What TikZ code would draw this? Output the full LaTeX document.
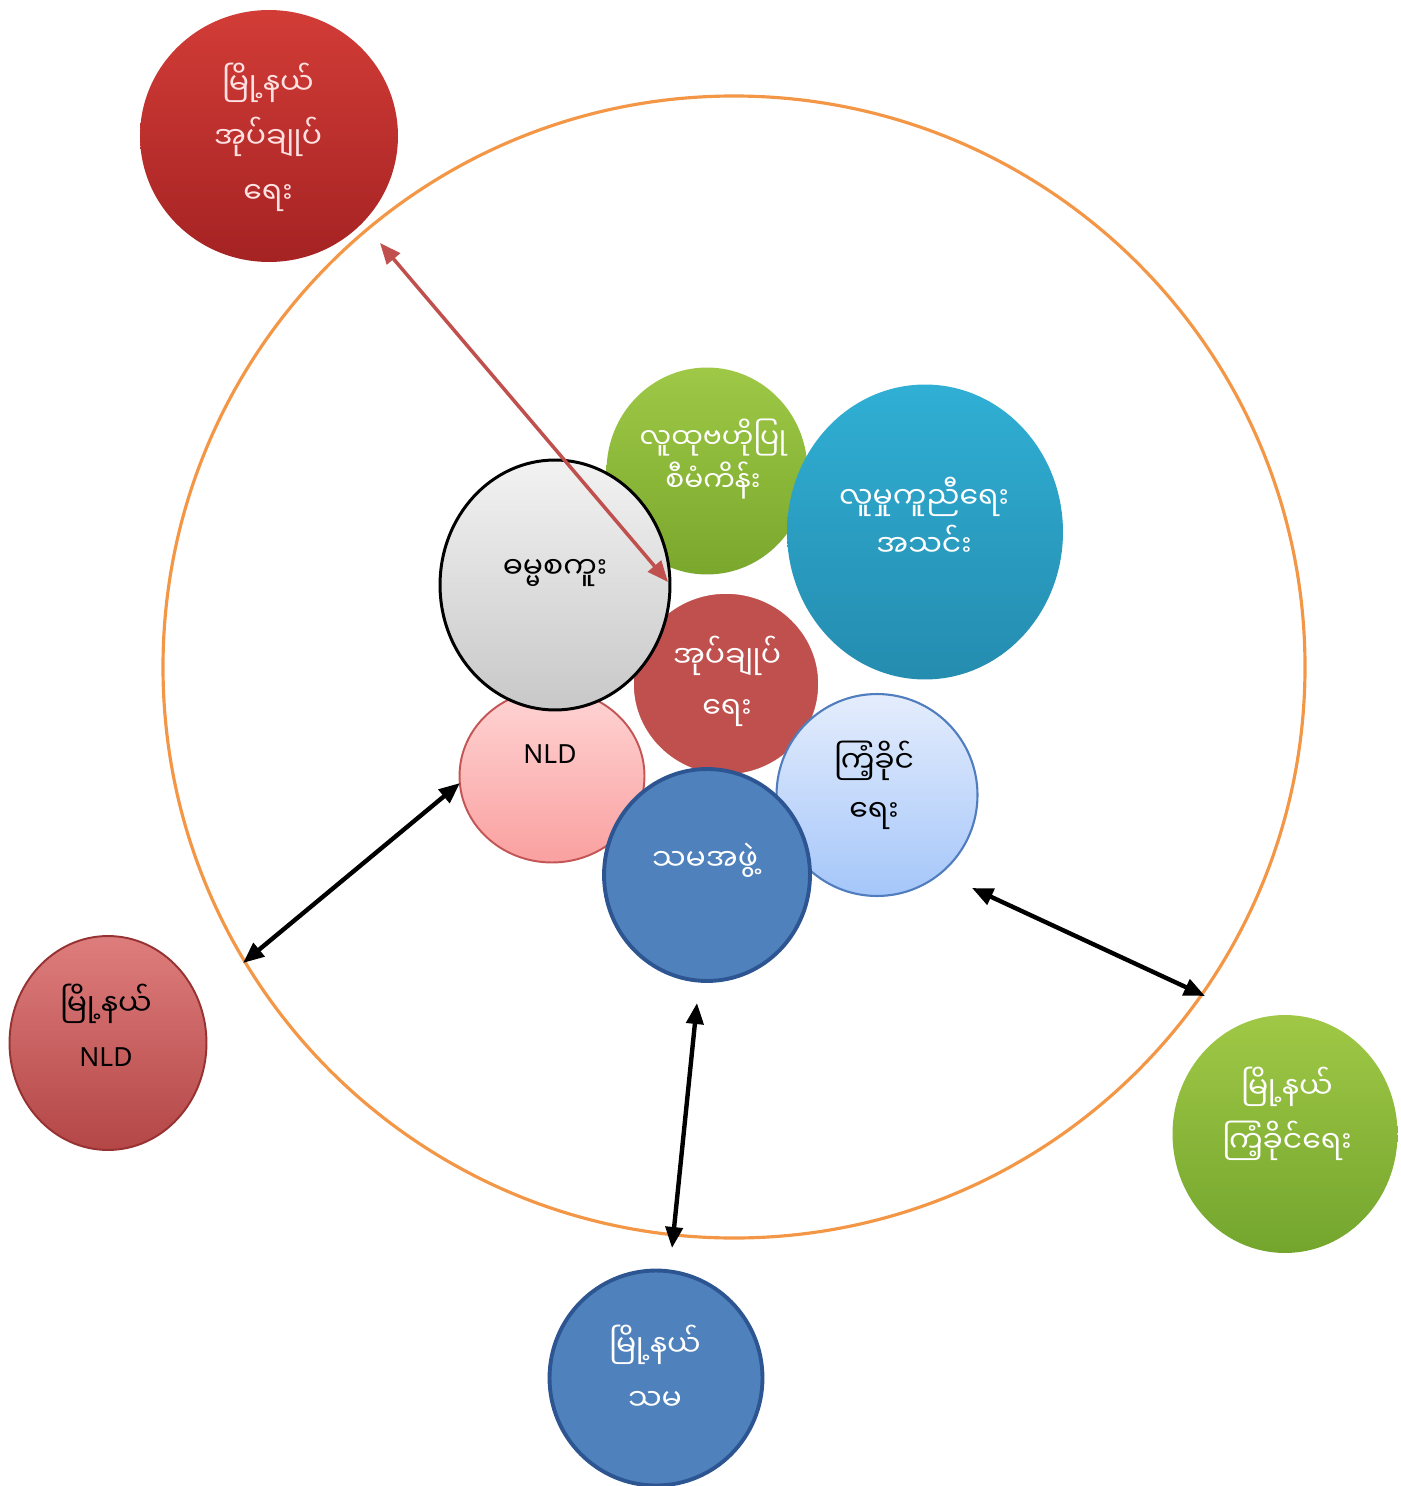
\documentclass[tikz,border=0pt]{standalone}
\usepackage{fontspec}
\setmainfont{Noto Sans}
\newfontfamily\mmfont[Script=Myanmar]{Noto Sans Myanmar UI}
\usetikzlibrary{shapes.geometric, arrows.meta}

\definecolor{ringorange}{RGB}{243,150,70}
\definecolor{arrowred}{RGB}{192,80,77}
\definecolor{midred}{RGB}{192,80,77}
\definecolor{officeblue}{RGB}{79,129,189}
\definecolor{blueedge}{RGB}{45,85,145}
\definecolor{paleedge}{RGB}{80,125,190}
\definecolor{pinkedge}{RGB}{195,85,85}

\begin{document}
\begin{tikzpicture}[x=0.02cm,y=-0.02cm,
    blob/.style={ellipse, inner sep=0pt},
    mmtxt/.style={align=center, font=\mmfont\fontsize{17}{31}\selectfont},
    twoway/.style={{Triangle[length=4.2mm,width=3.4mm]}-{Triangle[length=4.2mm,width=3.4mm]}}]
        \useasboundingbox (0,0) rectangle (1400,1486);

        %Shape: Circle [ring]
        \draw [ringorange, line width=1.8pt] (734,667) circle (571);

        %Shape: Circle [township admin]
        \node [blob, minimum width=5.16cm, minimum height=5.04cm, top color={rgb,255:red,210;green,60;blue,55}, bottom color={rgb,255:red,165;green,35;blue,35}] (tsadmin) at (269,136) {};
        %Shape: Circle [community plan]
        \node [blob, minimum width=4.02cm, minimum height=4.14cm, top color={rgb,255:red,158;green,200;blue,70}, bottom color={rgb,255:red,122;green,168;blue,45}] (plan) at (707,471) {};
        %Shape: Circle [social welfare]
        \node [blob, minimum width=5.52cm, minimum height=5.9cm, top color={rgb,255:red,48;green,175;blue,212}, bottom color={rgb,255:red,36;green,140;blue,175}] (welfare) at (925,532) {};
        %Shape: Circle [admin]
        \node [blob, minimum width=3.76cm, minimum height=3.68cm, fill=midred, draw=white, line width=2pt] (admin) at (726,684) {};
        %Shape: Circle [usdp]
        \node [blob, minimum width=4.02cm, minimum height=4.04cm, top color={rgb,255:red,228;green,237;blue,252}, bottom color={rgb,255:red,165;green,198;blue,250}, draw=paleedge, line width=1.2pt] (usdp) at (877,795) {};
        %Shape: Circle [nld]
        \node [blob, minimum width=3.7cm, minimum height=3.46cm, top color={rgb,255:red,255;green,212;blue,212}, bottom color={rgb,255:red,250;green,160;blue,160}, draw=pinkedge, line width=1.1pt] (nld) at (552,776) {};
        %Shape: Circle [monastic school]
        \node [blob, minimum width=4.6cm, minimum height=5cm, top color={rgb,255:red,242;green,242;blue,242}, bottom color={rgb,255:red,200;green,200;blue,200}, draw=black, line width=1.7pt] (school) at (555,585) {};
        %Shape: Circle [farmers]
        \node [blob, minimum width=4.12cm, minimum height=4.24cm, fill=officeblue, draw=blueedge, line width=2.2pt] (farmers) at (707,875) {};

        %Shape: Circle [township nld]
        \node [blob, minimum width=3.94cm, minimum height=4.28cm, top color={rgb,255:red,222;green,125;blue,125}, bottom color={rgb,255:red,180;green,70;blue,70}, draw={rgb,255:red,150;green,50;blue,50}, line width=1.1pt] (tsnld) at (108,1043) {};
        %Shape: Circle [township usdp]
        \node [blob, minimum width=4.5cm, minimum height=4.76cm, top color={rgb,255:red,160;green,200;blue,70}, bottom color={rgb,255:red,115;green,165;blue,45}] (tsusdp) at (1285,1134) {};
        %Shape: Circle [township farmers]
        \node [blob, minimum width=4.26cm, minimum height=4.3cm, fill=officeblue, draw=blueedge, line width=2.2pt] (tsfarmers) at (656,1378) {};

        % Text Node
        \node [mmtxt, text={rgb,255:red,255;green,225;blue,225}] (tsadmin-t) at (268,137) {မြို့နယ်\\အုပ်ချုပ်\\ရေး};
        % Text Node
        \node [mmtxt, text=white, font=\mmfont\fontsize{16}{25}\selectfont] (plan-t) at (713,459) {လူထုဗဟိုပြု\\စီမံကိန်း};
        % Text Node
        \node [mmtxt, text=white, font=\mmfont\fontsize{17}{27}\selectfont] (welfare-t) at (924,517) {လူမှုကူညီရေး\\အသင်း};
        % Text Node
        \node [mmtxt, text=black] (school-t) at (555,573) {ဓမ္မစကူး};
        % Text Node
        \node [mmtxt, text=white, font=\mmfont\fontsize{17}{29}\selectfont] (admin-t) at (727,681) {အုပ်ချုပ်\\ရေး};
        % Text Node
        \node [mmtxt, text=black, font=\mmfont\fontsize{17}{28}\selectfont] (usdp-t) at (874,785) {ကြံ့ခိုင်\\ရေး};
        % Text Node
        \node [font=\fontsize{15}{18}\selectfont, text=black] (nld-t) at (550,754) {NLD};
        % Text Node
        \node [mmtxt, text=black] (tsnld-t) at (106,1004) {မြို့နယ်};
        % Text Node
        \node [font=\fontsize{15}{18}\selectfont, text=black] (tsnld-t2) at (106,1057) {NLD};
        % Text Node
        \node [mmtxt, text=white] (farmers-t) at (705,860) {သမအဖွဲ့};
        % Text Node
        \node [mmtxt, text=white] (tsusdp-t) at (1287,1114) {မြို့နယ်\\ကြံ့ခိုင်ရေး};
        % Text Node
        \node [mmtxt, text=white] (tsfarmers-t) at (655,1368) {မြို့နယ်\\သမ};

        % arrow ends
        \coordinate (ra) at (380,243);
        \coordinate (rb) at (668,582);
        \coordinate (la) at (243,963);
        \coordinate (lb) at (460,783);
        \coordinate (ea) at (972,888);
        \coordinate (eb) at (1205,996);
        \coordinate (sa) at (697,1003);
        \coordinate (sb) at (672,1248);

        \draw [twoway, arrowred, line width=2pt] (ra) -- (rb);
        \draw [twoway, black, line width=2.5pt] (la) -- (lb);
        \draw [twoway, black, line width=2.5pt] (ea) -- (eb);
        \draw [twoway, black, line width=2.5pt] (sa) -- (sb);

\end{tikzpicture}
\end{document}
